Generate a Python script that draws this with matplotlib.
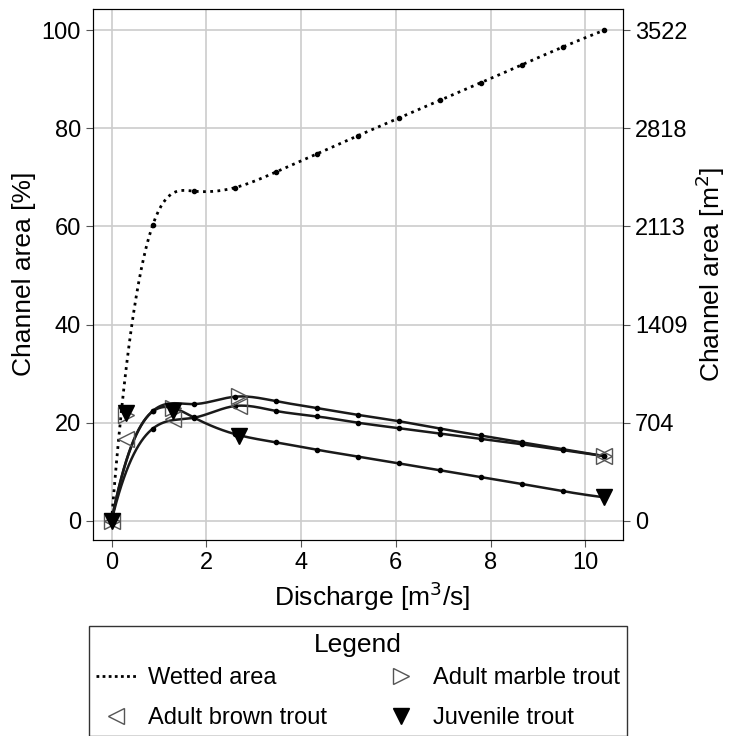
import matplotlib
matplotlib.use("Agg")
import matplotlib.pyplot as plt
import numpy as np

plt.rcParams["font.family"] = ["Liberation Sans", "DejaVu Sans"]

# ---------- data ----------
# discharge grid [m3/s]
q_grid = [0, 0.87, 1.73, 2.6, 3.47, 4.33, 5.2, 6.07, 6.93, 7.8, 8.67, 9.53, 10.4]
wetted = [0, 60.3, 67.2, 67.9, 71.1, 74.8, 78.5, 82.1, 85.7, 89.3, 93.0, 96.6, 100.0]
marble = [0, 22.4, 23.8, 25.3, 24.4, 23.0, 21.6, 20.3, 18.8, 17.4, 16.0, 14.6, 13.2]
brown = [0, 18.8, 21.0, 23.4, 22.4, 21.3, 20.0, 18.9, 17.8, 16.7, 15.6, 14.4, 13.2]
juvenile = [0, 22.3, 21.1, 17.7, 16.0, 14.5, 13.1, 11.7, 10.3, 8.9, 7.5, 6.05, 4.8]

# simulated discharges (big markers)
q_sim = [0, 0.3, 1.3, 2.7, 10.4]
marble_sim = [0, 21.5, 23.0, 25.5, 13.2]
brown_sim = [0, 16.6, 20.7, 23.4, 13.2]
juvenile_sim = [0, 21.9, 22.4, 17.3, 4.8]

total_area = 3522  # m2 at 100 %
right_ticks = [0, 704, 1409, 2113, 2818, 3522]


def spline(x, y, n=400):
    """cubic spline, not-a-knot ends"""
    x = np.asarray(x, float)
    y = np.asarray(y, float)
    h = np.diff(x)
    m = len(x)
    A = np.zeros((m, m))
    b = np.zeros(m)
    A[0, :3] = [h[1], -(h[0] + h[1]), h[0]]
    A[-1, -3:] = [h[-1], -(h[-2] + h[-1]), h[-2]]
    for i in range(1, m - 1):
        A[i, i - 1] = h[i - 1]
        A[i, i] = 2 * (h[i - 1] + h[i])
        A[i, i + 1] = h[i]
        b[i] = 6 * ((y[i + 1] - y[i]) / h[i] - (y[i] - y[i - 1]) / h[i - 1])
    M = np.linalg.solve(A, b)
    xs = np.linspace(x[0], x[-1], n)
    k = np.clip(np.searchsorted(x, xs) - 1, 0, m - 2)
    t0 = x[k + 1] - xs
    t1 = xs - x[k]
    hk = h[k]
    ys = (M[k] * t0 ** 3 + M[k + 1] * t1 ** 3) / (6 * hk) \
        + (y[k] / hk - M[k] * hk / 6) * t0 + (y[k + 1] / hk - M[k + 1] * hk / 6) * t1
    return xs, ys


fig = plt.figure(figsize=(7.29, 7.36), dpi=100)
ax = fig.add_axes([0.127, 0.2663, 0.728, 0.722])

# wetted area
xs, ys = spline(q_grid, wetted)
ax.plot(xs, ys, color="black", ls=(0, (1, 1.6)), lw=2.0, zorder=3)
ax.plot(q_grid, wetted, "o", color="black", ms=3, zorder=4)

# habitat curves
for vals in (marble, brown, juvenile):
    xs, ys = spline(q_grid, vals)
    ax.plot(xs, ys, color="#1a1a1a", lw=1.8, zorder=3)
    ax.plot(q_grid, vals, "o", color="black", ms=3, zorder=4)

ax.plot(q_sim, marble_sim, ">", ms=12, mfc="none", mec="#555555", mew=1.0, ls="none", zorder=5)
ax.plot(q_sim, brown_sim, "<", ms=12, mfc="none", mec="#555555", mew=1.0, ls="none", zorder=5)
ax.plot(q_sim, juvenile_sim, "v", ms=12, color="black", ls="none", zorder=6)

ax.set_xlim(-0.4, 10.8)
ax.set_ylim(-3.9, 104.4)
ax.set_xticks([0, 2, 4, 6, 8, 10])
ax.set_yticks([0, 20, 40, 60, 80, 100])
ax.grid(color="#cccccc", lw=1.2)
ax.set_axisbelow(True)
ax.tick_params(labelsize=17, length=5, color="#555555")
for s in ax.spines.values():
    s.set_color("#333333")
ax.set_xlabel("Discharge [m$^3$/s]", fontsize=19)
ax.xaxis.set_label_coords(0.526, -0.074)
ax.set_ylabel("Channel area [%]", fontsize=19)

ax2 = ax.twinx()
lo, hi = ax.get_ylim()
ax2.set_ylim(lo * total_area / 100, hi * total_area / 100)
ax2.set_yticks(right_ticks)
ax2.set_yticklabels([str(t) for t in right_ticks])
ax2.tick_params(labelsize=17, length=5, color="#555555")
ax2.set_ylabel("Channel area [m$^2$]", fontsize=19)

# legend (proxy handles)
h_wet, = ax.plot([], [], color="black", ls=(0, (1, 1.2)), lw=2.0)
h_brown, = ax.plot([], [], "<", ms=12, mfc="none", mec="#555555", ls="none")
h_marble, = ax.plot([], [], ">", ms=12, mfc="none", mec="#555555", ls="none")
h_juv, = ax.plot([], [], "v", ms=12, color="black", ls="none")
leg = fig.legend([h_wet, h_brown, h_marble, h_juv],
                 ["Wetted area", "Adult brown trout", "Adult marble trout", "Juvenile trout"],
                 ncol=2, title="Legend", fontsize=17, title_fontsize=19,
                 loc="upper left", bbox_to_anchor=(0.122, 0.150, 0.738, 0), mode="expand",
                 borderaxespad=0, fancybox=False, edgecolor="#333333", framealpha=1,
                 handlelength=1.7, handletextpad=0.5, borderpad=0.3, labelspacing=0.75)
leg.get_frame().set_linewidth(1.0)
leg._legend_box.sep = 7.5  # tighter gap under the title

plt.savefig("out.png", dpi=100)
